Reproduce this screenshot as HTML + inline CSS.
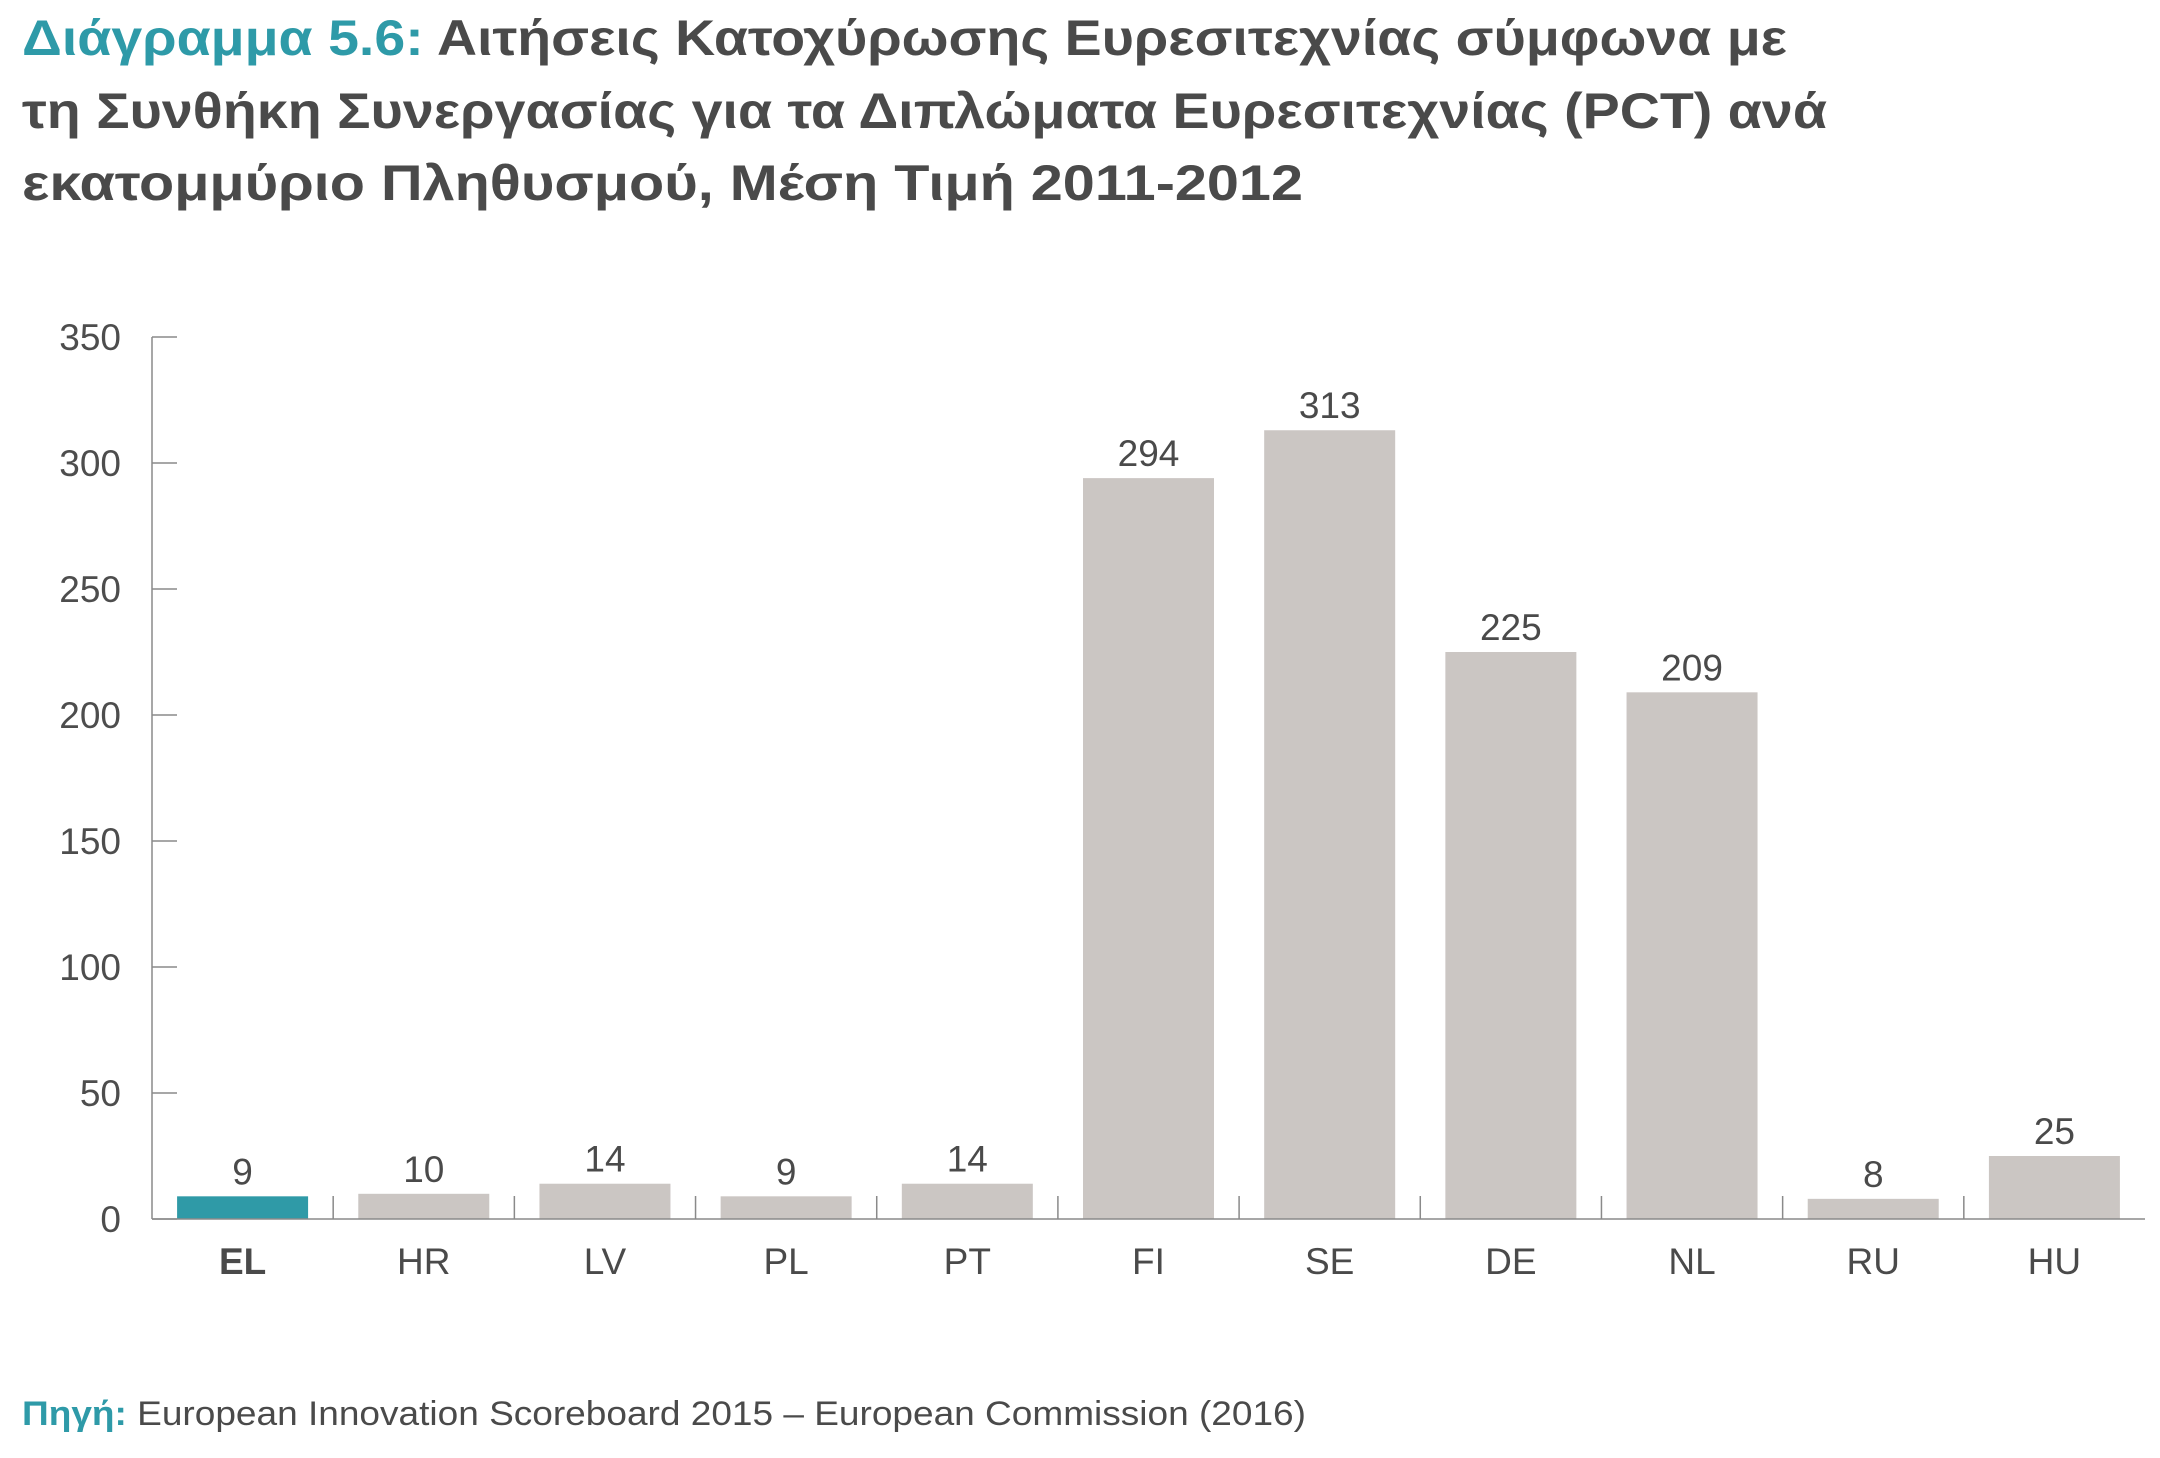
<!DOCTYPE html>
<html><head><meta charset="utf-8">
<style>
body{margin:0;background:#fff;}
svg{display:block;font-family:"Liberation Sans","DejaVu Sans",sans-serif;}
</style></head>
<body>
<svg id="chart" width="2160" height="1458" viewBox="0 0 2160 1458" xmlns="http://www.w3.org/2000/svg">
<g font-weight="bold" font-size="50" fill="#4a4a4a">
<text x="22" y="55" textLength="1765" lengthAdjust="spacingAndGlyphs"><tspan fill="#2e9aa8">Διάγραμμα 5.6:</tspan> Αιτήσεις Κατοχύρωσης Ευρεσιτεχνίας σύμφωνα με</text>
<text x="22" y="128" textLength="1805" lengthAdjust="spacingAndGlyphs">τη Συνθήκη Συνεργασίας για τα Διπλώματα Ευρεσιτεχνίας (PCT) ανά</text>
<text x="22" y="200" textLength="1281" lengthAdjust="spacingAndGlyphs">εκατομμύριο Πληθυσμού, Μέση Τιμή 2011-2012</text>
</g>
<g id="plot"></g>
<text x="22" y="1425" font-size="34" fill="#4a4a4a" textLength="1284" lengthAdjust="spacingAndGlyphs"><tspan font-weight="bold" fill="#2e9aa8">Πηγή:</tspan> European Innovation Scoreboard 2015 – European Commission (2016)</text>
</svg>
<script>
const categories = ["EL","HR","LV","PL","PT","FI","SE","DE","NL","RU","HU"];
const values = [9,10,14,9,14,294,313,225,209,8,25];
const yTicks = [0,50,100,150,200,250,300,350];

const NS="http://www.w3.org/2000/svg";
const g=document.getElementById('plot');
const x0=152, x1=2145, y0=1219, yTop=337, yMax=350;
const band=(x1-x0)/categories.length, barW=131;
const y=v=>y0-(v/yMax)*(y0-yTop);
const bx=i=>x0+i*band+(band-barW)/2;
function mk(t,a,txt){const e=document.createElementNS(NS,t);for(const k in a)e.setAttribute(k,a[k]);if(txt!==undefined)e.textContent=txt;g.appendChild(e);return e;}

let e=mk('line',{x1:x0,y1:yTop,x2:x0,y2:y0,stroke:'#8a8a8a','stroke-width':1.5});


yTicks.forEach(t=>{
  let l=mk('line',{x1:x0,y1:y(t),x2:x0+25,y2:y(t),stroke:'#8a8a8a','stroke-width':1.5});
  
  
  let tx=mk('text',{x:121,y:y(t)+13,'text-anchor':'end','font-size':37,fill:'#4d4d4d'},t);
  
  
});
categories.forEach((c,i)=>{
  const v=values[i];
  let r=mk('rect',{x:bx(i),y:y(v),width:barW,height:y0-y(v),fill:i===0?'#2f9aa7':'#cbc6c3'});
  
  
  let vl=mk('text',{x:bx(i)+barW/2,y:y(v)-12,'text-anchor':'middle','font-size':37,fill:'#4a4a4a'},v);
  
  
  let cl=mk('text',{x:x0+i*band+band/2,y:1274,'text-anchor':'middle','font-size':37,fill:'#4a4a4a','font-weight':i===0?'bold':'normal'},c);
  
  
  if(i>0){
    let s=mk('line',{x1:x0+i*band,y1:y0-23,x2:x0+i*band,y2:y0,stroke:'#8a8a8a','stroke-width':1.5});
    
    
  }
});
e=mk('line',{x1:x0,y1:y0,x2:x1,y2:y0,stroke:'#8a8a8a','stroke-width':1.5});


</script>
</body></html>
